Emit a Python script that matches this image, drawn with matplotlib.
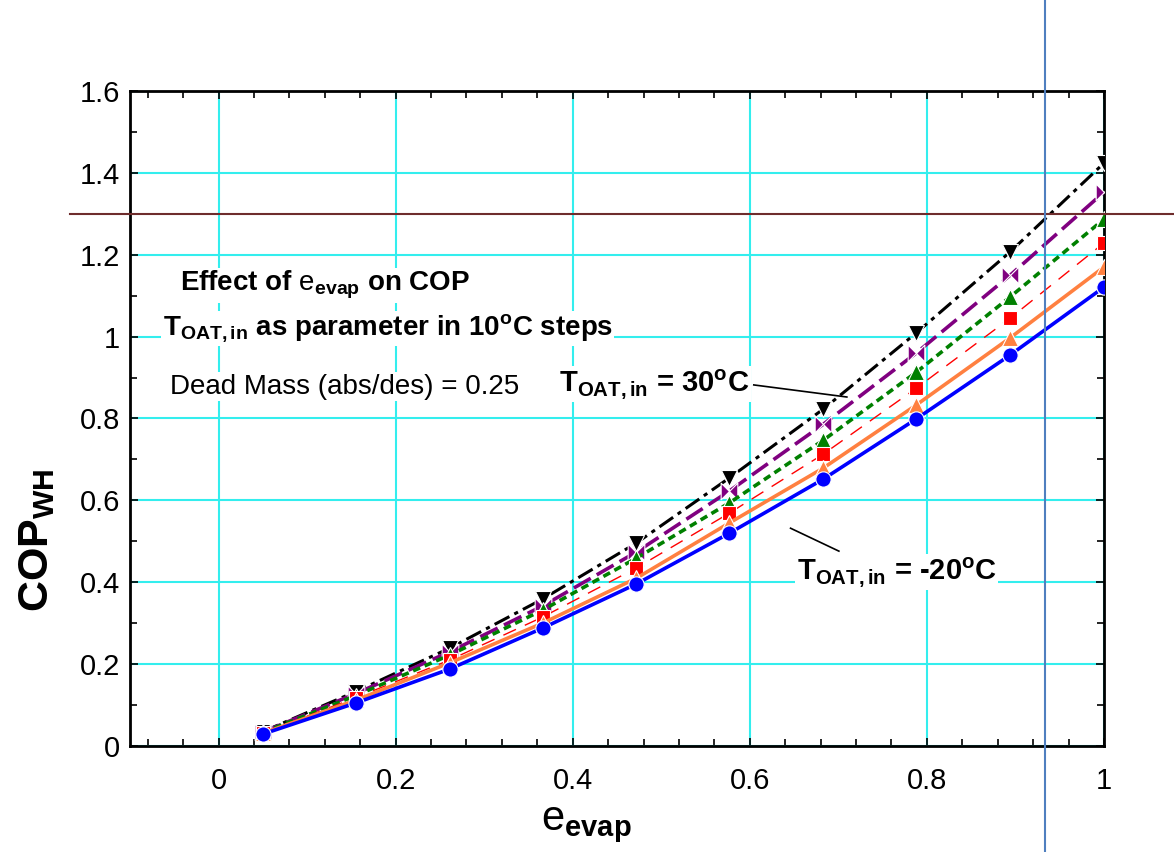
#!/usr/bin/env python3
import matplotlib
matplotlib.use('Agg')
import matplotlib.pyplot as plt
from matplotlib.path import Path
from matplotlib.lines import Line2D
from matplotlib.ticker import MultipleLocator
from matplotlib.transforms import blended_transform_factory

# Evaporator effectiveness values
e_evap = [0.05, 0.155, 0.261, 0.366, 0.472, 0.577, 0.683, 0.788, 0.894, 1.0]

# COP_WH for each outdoor air inlet temperature (deg C)
t_oat = [30, 20, 10, 0, -10, -20]
cop_p30 = [0.035, 0.133, 0.239, 0.359, 0.496, 0.655, 0.823, 1.009, 1.207, 1.424]
cop_p20 = [0.034, 0.128, 0.230, 0.342, 0.474, 0.623, 0.786, 0.960, 1.150, 1.353]
cop_p10 = [0.033, 0.123, 0.222, 0.332, 0.459, 0.594, 0.747, 0.913, 1.097, 1.287]
cop_0 = [0.032, 0.118, 0.210, 0.315, 0.435, 0.569, 0.713, 0.874, 1.045, 1.229]
cop_m10 = [0.031, 0.112, 0.203, 0.300, 0.410, 0.545, 0.679, 0.833, 0.997, 1.170]
cop_m20 = [0.029, 0.105, 0.188, 0.288, 0.396, 0.520, 0.652, 0.799, 0.955, 1.121]

# Reference cursor lines drawn over the chart
ref_cop = 1.3
ref_e_evap = 0.933

x_ticks = [0, 0.2, 0.4, 0.6, 0.8, 1.0]
x_ticklabels = ['0', '0.2', '0.4', '0.6', '0.8', '1']
y_ticks = [0, 0.2, 0.4, 0.6, 0.8, 1.0, 1.2, 1.4, 1.6]
y_ticklabels = ['0', '0.2', '0.4', '0.6', '0.8', '1', '1.2', '1.4', '1.6']


def bowtie():
    """Two triangles meeting at the centre, flat sides left and right."""
    verts = [(-1, -1), (-1, 1), (0, 0), (-1, -1),
             (1, -1), (1, 1), (0, 0), (1, -1)]
    codes = [Path.MOVETO, Path.LINETO, Path.LINETO, Path.CLOSEPOLY] * 2
    return Path(verts, codes)


def main():
    plt.rcParams['font.family'] = ['Liberation Sans', 'DejaVu Sans']
    plt.rcParams['mathtext.fontset'] = 'custom'
    plt.rcParams['mathtext.rm'] = 'Liberation Sans'
    plt.rcParams['mathtext.it'] = 'Liberation Sans:italic'
    plt.rcParams['mathtext.bf'] = 'Liberation Sans:bold'
    plt.rcParams['mathtext.sf'] = 'Liberation Sans'
    plt.rcParams['lines.scale_dashes'] = False

    fig = plt.figure(figsize=(11.74, 8.52), dpi=100)
    ax = fig.add_axes([130/1174, 1 - 746/852, 974/1174, 655/852])

    series = [
        (cop_p30, 'black', 'v', (12, 4, 3, 4), 2.2, 11),
        (cop_p20, '#800080', bowtie(), (14, 5), 2.6, 12),
        (cop_p10, '#008000', '^', (5.5, 3.5), 2.6, 11),
        (cop_0, '#ff0000', 's', (10, 7), 1.0, 10),
        (cop_m10, '#ff8040', '^', None, 2.6, 11),
        (cop_m20, '#0000ff', 'o', None, 2.6, 11),
    ]
    for cop, color, marker, dashes, lw, ms in series:
        line, = ax.plot(e_evap, cop, color=color, lw=lw, marker=marker,
                        markersize=ms, markeredgecolor='white',
                        markeredgewidth=0.8, zorder=3)
        if dashes is not None:
            line.set_dashes(dashes)

    # Grid
    ax.grid(True, which='major', color='#33eeee', lw=1.5)
    ax.set_axisbelow(True)

    # Axes limits and ticks
    ax.set_xlim(-0.1, 1.0)
    ax.set_ylim(0, 1.6)
    ax.set_xticks(x_ticks, x_ticklabels)
    ax.set_yticks(y_ticks, y_ticklabels)
    ax.xaxis.set_minor_locator(MultipleLocator(0.04))
    ax.yaxis.set_minor_locator(MultipleLocator(0.1))
    ax.tick_params(which='both', direction='in', top=True, right=True,
                   width=1.2, labelsize=21)
    ax.tick_params(which='major', length=6)
    ax.tick_params(which='minor', length=5)
    ax.tick_params(axis='x', pad=15)
    ax.tick_params(axis='y', pad=7)
    for spine in ax.spines.values():
        spine.set_linewidth(2)

    # Axis labels
    ax.set_xlabel(r'$\mathrm{e}_{\mathbf{evap}}$', fontsize=30)
    ax.xaxis.set_label_coords(0.469, -0.09)
    ax.set_ylabel(r'$\mathbf{COP_{WH}}$', fontsize=31)
    ax.yaxis.set_label_coords(-0.075, 0.315)

    # Annotations
    box = dict(facecolor='white', edgecolor='none', pad=1)
    ax.text(-0.044, 1.126, r'Effect of $\mathrm{e}_{\mathbf{evap}}$ on COP',
            fontsize=20, fontweight='bold', va='center', bbox=box)
    ax.text(-0.063, 1.02,
            r'$\mathbf{T_{OAT,in}}$ as parameter in 10$^{\mathbf{o}}$C steps',
            fontsize=20, fontweight='bold', va='center', bbox=box)
    ax.text(-0.055, 0.878, 'Dead Mass (abs/des) = 0.25', fontsize=20,
            va='center', bbox=box)

    ax.text(0.6, 0.867, r'$\mathbf{T_{OAT,in}}$ = %d$^{\mathbf{o}}$C' % t_oat[0],
            fontsize=21, fontweight='bold', ha='right', va='baseline', bbox=box)
    ax.plot([0.6045, 0.7096], [0.882, 0.8525], color='black', lw=1.2, zorder=4)
    ax.text(0.653, 0.408, r'$\mathbf{T_{OAT,in}}$ = %d$^{\mathbf{o}}$C' % t_oat[-1],
            fontsize=21, fontweight='bold', ha='left', va='baseline', bbox=box)
    ax.plot([0.646, 0.7006], [0.532, 0.476], color='black', lw=1.2, zorder=4)

    # Cursor lines across the whole figure
    htrans = blended_transform_factory(fig.transFigure, ax.transData)
    fig.add_artist(Line2D([70/1174, 1.0], [ref_cop, ref_cop], transform=htrans,
                          color='#6e2c2c', lw=1.5, zorder=10))
    vtrans = blended_transform_factory(ax.transData, fig.transFigure)
    fig.add_artist(Line2D([ref_e_evap, ref_e_evap], [0.0, 1.0], transform=vtrans,
                          color='#4f7fbf', lw=1.5, zorder=10))

    fig.savefig('out.png', dpi=100)


if __name__ == '__main__':
    main()
